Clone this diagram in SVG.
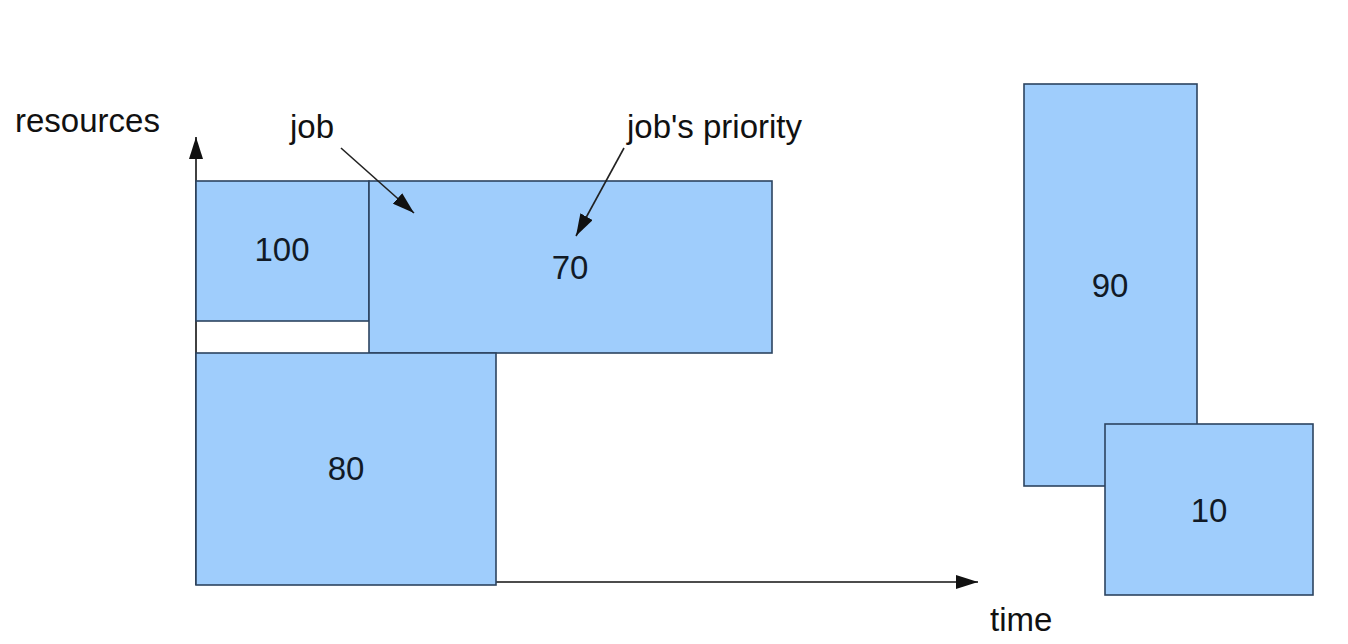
<svg xmlns="http://www.w3.org/2000/svg" width="1348" height="644" viewBox="0 0 1348 644">
<style>
.box{fill:#9fcdfc;stroke:#2c4460;stroke-width:1.6}
.num{font-family:"Liberation Sans",Arial,sans-serif;font-size:33px;fill:#111a26;text-anchor:middle}
.lbl{font-family:"Liberation Sans",Arial,sans-serif;font-size:33px;fill:#111}
.ax{stroke:#111;stroke-width:1.6;fill:none}
</style>
<defs>
<marker id="ahl" viewBox="0 0 10 10" refX="10" refY="5" markerWidth="22" markerHeight="14" markerUnits="userSpaceOnUse" orient="auto" preserveAspectRatio="none">
<path d="M0,0 L10,5 L0,10 z" fill="#111"/>
</marker>
</defs>
<rect width="1348" height="644" fill="#fff"/>
<g id="connectors">
<line class="ax" x1="196" y1="585" x2="196" y2="137" marker-end="url(#ahl)"/>
<line class="ax" x1="496" y1="582" x2="978" y2="582" marker-end="url(#ahl)"/>
</g>
<g id="job100"><rect class="box" x="196" y="181" width="173" height="140"/><text class="num" x="282" y="261">100</text></g>
<g id="job70"><rect class="box" x="369" y="181" width="403" height="172"/><text class="num" x="570" y="279">70</text></g>
<g id="job80"><rect class="box" x="196" y="353" width="300" height="232"/><text class="num" x="346" y="480">80</text></g>
<g id="job90"><rect class="box" x="1024" y="84" width="173" height="402"/><text class="num" x="1110" y="297">90</text></g>
<g id="job10"><rect class="box" x="1105" y="424" width="208" height="171"/><text class="num" x="1209" y="522">10</text></g>
<g id="labels">
<text class="lbl" x="15" y="132">resources</text>
<text class="lbl" x="290" y="138">job</text>
<text class="lbl" x="627" y="138">job's priority</text>
<text class="lbl" x="990" y="631">time</text>
</g>
<g id="pointers">
<line x1="341" y1="148" x2="414" y2="213" stroke="#222" stroke-width="1.6" marker-end="url(#ahl)"/>
<line x1="624" y1="148" x2="576" y2="236" stroke="#222" stroke-width="1.6" marker-end="url(#ahl)"/>
</g>
</svg>
